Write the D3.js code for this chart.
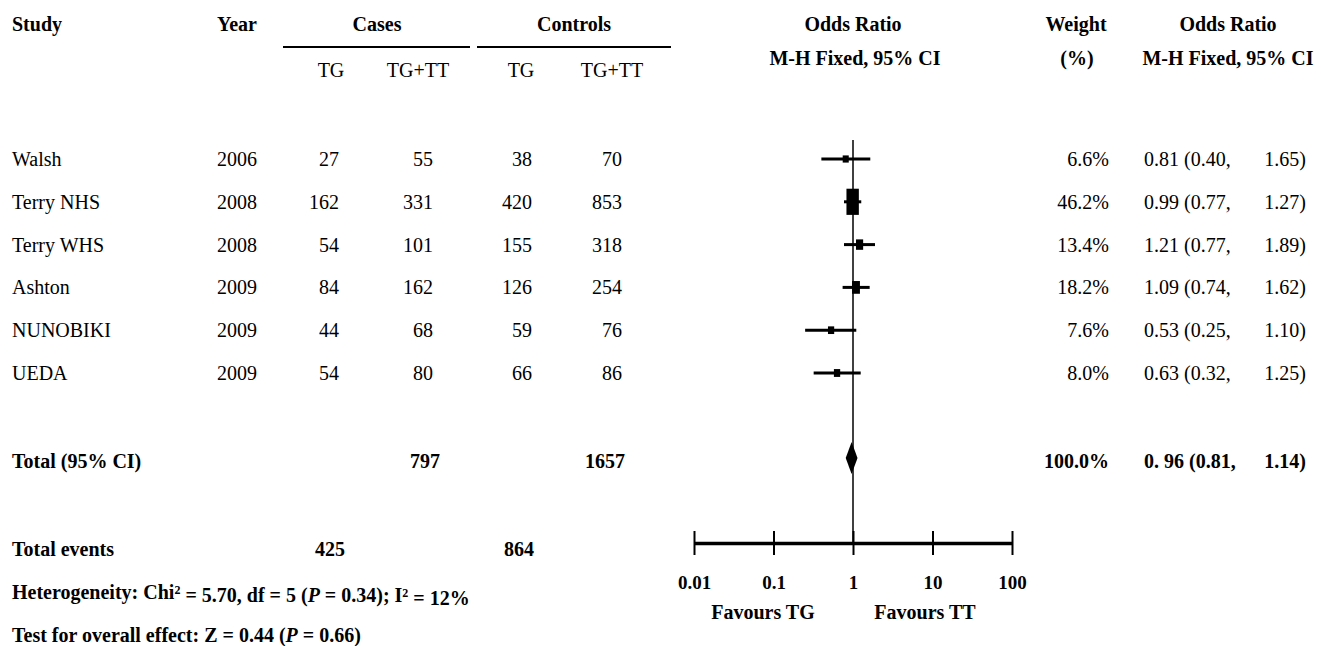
<!DOCTYPE html>
<html>
<head>
  <meta charset="utf-8">
  <title>Forest plot</title>
  <script src="https://d3js.org/d3.v7.min.js"></script>
  <style>
    body { margin: 0; background: #fff; }
    svg text { font-family: "Liberation Serif", "Times New Roman", serif; fill: #000; }
    .hd { font-weight: bold; font-size: 20px; }
    .bd { font-size: 20px; }
    .bold { font-weight: bold; font-size: 20px; }
    .axis path, .axis line { stroke: #000; }
    .axis text { font-family: "Liberation Serif", serif; font-weight: bold; font-size: 19px; }
  </style>
</head>
<body>
  <div id="chart"></div>
  <script>
    // data
    const studies = ["Walsh", "Terry NHS", "Terry WHS", "Ashton", "NUNOBIKI", "UEDA"];
    const years = [2006, 2008, 2008, 2009, 2009, 2009];
    const casesTG = [27, 162, 54, 84, 44, 54];
    const casesTotal = [55, 331, 101, 162, 68, 80];
    const controlsTG = [38, 420, 155, 126, 59, 66];
    const controlsTotal = [70, 853, 318, 254, 76, 86];
    const weights = [6.6, 46.2, 13.4, 18.2, 7.6, 8.0];
    const oddsRatio = [0.81, 0.99, 1.21, 1.09, 0.53, 0.63];
    const ciLow = [0.40, 0.77, 0.77, 0.74, 0.25, 0.32];
    const ciHigh = [1.65, 1.27, 1.89, 1.62, 1.10, 1.25];

    const totalCases = 797, totalControls = 1657;
    const eventsCases = 425, eventsControls = 864;
    const pooled = { or: 0.96, lo: 0.81, hi: 1.14, weight: "100.0%", label: "0. 96 (0.81,", hiLabel: "1.14)" };
    const axisTicks = [0.01, 0.1, 1, 10, 100];
    const axisTickLabels = ["0.01", "0.1", "1", "10", "100"];

    const width = 1321, height = 646;
    const svg = d3.select("#chart").append("svg")
      .attr("width", width).attr("height", height);

    // row positions
    const y = d3.scalePoint().domain(studies).range([159, 373]);
    const yTotal = 461, yEvents = 549, yHet = 592, yTest = 635;

    // odds ratio scale
    const x = d3.scaleLog().domain([0.01, 100]).range([694, 1012]);
    const boxW = d3.scaleLinear().domain([0, 50]).range([5, 13]);
    const boxH = d3.scaleLinear().domain([0, 50]).range([4, 28]);

    // column positions
    const col = { study: 12, year: 217, cTG: 339, cTot: 433, kTG: 532, kTot: 622, weight: 1109, or: 1144, orHi: 1306 };

    function txt(g, xx, yy, s, cls, anchor) {
      return g.append("text").attr("x", xx).attr("y", yy).attr("dy", "0.35em")
        .attr("class", cls).attr("text-anchor", anchor || "start").text(s);
    }

    // headers
    const hdr = svg.append("g");
    txt(hdr, col.study, 24, "Study", "hd");
    txt(hdr, col.year, 24, "Year", "hd");
    txt(hdr, 377, 24, "Cases", "hd", "middle");
    txt(hdr, 574, 24, "Controls", "hd", "middle");
    txt(hdr, 853, 24, "Odds Ratio", "hd", "middle");
    txt(hdr, 1076, 24, "Weight", "hd", "middle");
    txt(hdr, 1228, 24, "Odds Ratio", "hd", "middle");
    txt(hdr, 855, 58, "M-H Fixed, 95% CI", "hd", "middle");
    txt(hdr, 1077, 58, "(%)", "hd", "middle");
    txt(hdr, 1228, 58, "M-H Fixed, 95% CI", "hd", "middle");
    txt(hdr, 331, 70, "TG", "bd", "middle");
    txt(hdr, 418, 70, "TG+TT", "bd", "middle");
    txt(hdr, 521, 70, "TG", "bd", "middle");
    txt(hdr, 612, 70, "TG+TT", "bd", "middle");
    hdr.append("line").attr("x1", 283).attr("x2", 470).attr("y1", 47).attr("y2", 47)
      .attr("stroke", "#000").attr("stroke-width", 2);
    hdr.append("line").attr("x1", 477).attr("x2", 671).attr("y1", 47).attr("y2", 47)
      .attr("stroke", "#000").attr("stroke-width", 2);

    // study rows
    const rows = svg.append("g");
    studies.forEach((s, i) => {
      const yy = y(s);
      txt(rows, col.study, yy, s, "bd");
      txt(rows, col.year, yy, years[i], "bd");
      txt(rows, col.cTG, yy, casesTG[i], "bd", "end");
      txt(rows, col.cTot, yy, casesTotal[i], "bd", "end");
      txt(rows, col.kTG, yy, controlsTG[i], "bd", "end");
      txt(rows, col.kTot, yy, controlsTotal[i], "bd", "end");
      txt(rows, col.weight, yy, weights[i].toFixed(1) + "%", "bd", "end");
      txt(rows, col.or, yy, oddsRatio[i].toFixed(2) + " (" + ciLow[i].toFixed(2) + ",", "bd");
      txt(rows, col.orHi, yy, ciHigh[i].toFixed(2) + ")", "bd", "end");
    });

    // totals
    txt(rows, col.study, yTotal, "Total (95% CI)", "bold");
    txt(rows, col.cTot + 7, yTotal, totalCases, "bold", "end");
    txt(rows, col.kTot + 3, yTotal, totalControls, "bold", "end");
    txt(rows, col.weight, yTotal, pooled.weight, "bold", "end");
    txt(rows, col.or, yTotal, pooled.label, "bold");
    txt(rows, col.orHi, yTotal, pooled.hiLabel, "bold", "end");

    txt(rows, col.study, yEvents, "Total events", "bold");
    txt(rows, col.cTG + 6, yEvents, eventsCases, "bold", "end");
    txt(rows, col.kTG + 2, yEvents, eventsControls, "bold", "end");

    const het = txt(rows, col.study, yHet, "", "bold");
    het.append("tspan").text("Heterogeneity: Chi");
    het.append("tspan").attr("dy", "-0.4em").attr("font-size", "12px").text("2");
    het.append("tspan").attr("dy", "0.4em").text(" = 5.70, df = 5 (");
    het.append("tspan").attr("font-style", "italic").text("P");
    het.append("tspan").text(" = 0.34); I");
    het.append("tspan").attr("dy", "-0.4em").attr("font-size", "12px").text("2");
    het.append("tspan").attr("dy", "0.4em").text(" = 12%");

    const tst = txt(rows, col.study, yTest, "", "bold");
    tst.append("tspan").text("Test for overall effect: Z = 0.44 (");
    tst.append("tspan").attr("font-style", "italic").text("P");
    tst.append("tspan").text(" = 0.66)");

    // forest plot
    const plot = svg.append("g");
    const axisY = 543;
    plot.append("line").attr("x1", x(1)).attr("x2", x(1)).attr("y1", 140).attr("y2", axisY)
      .attr("stroke", "#000").attr("stroke-width", 1.5);

    studies.forEach((s, i) => {
      const yy = y(s);
      plot.append("line").attr("x1", x(ciLow[i])).attr("x2", x(ciHigh[i]))
        .attr("y1", yy).attr("y2", yy).attr("stroke", "#000").attr("stroke-width", 3);
      const w = boxW(weights[i]), h = boxH(weights[i]);
      plot.append("rect").attr("x", x(oddsRatio[i]) - w / 2).attr("y", yy - h / 2)
        .attr("width", w).attr("height", h).attr("fill", "#000");
    });

    const dy0 = yTotal - 3;
    plot.append("path")
      .attr("d", `M${x(pooled.lo)},${dy0} L${x(pooled.or)},${dy0 - 16} L${x(pooled.hi)},${dy0} L${x(pooled.or)},${dy0 + 16} Z`)
      .attr("fill", "#000");

    const axis = d3.axisBottom(x).tickValues(axisTicks)
      .tickFormat((d, i) => axisTickLabels[i]).tickSizeOuter(0).tickSizeInner(12).tickPadding(21);
    const ag = plot.append("g").attr("class", "axis").attr("transform", `translate(0,${axisY})`).call(axis);
    ag.select(".domain").attr("stroke-width", 3.5);
    ag.selectAll(".tick line").attr("y1", -12).attr("stroke-width", 2);
    ag.selectAll(".tick text").attr("font-size", "19px");

    txt(plot, 763, 612, "Favours TG", "hd", "middle");
    txt(plot, 925, 612, "Favours TT", "hd", "middle");
  </script>
</body>
</html>
